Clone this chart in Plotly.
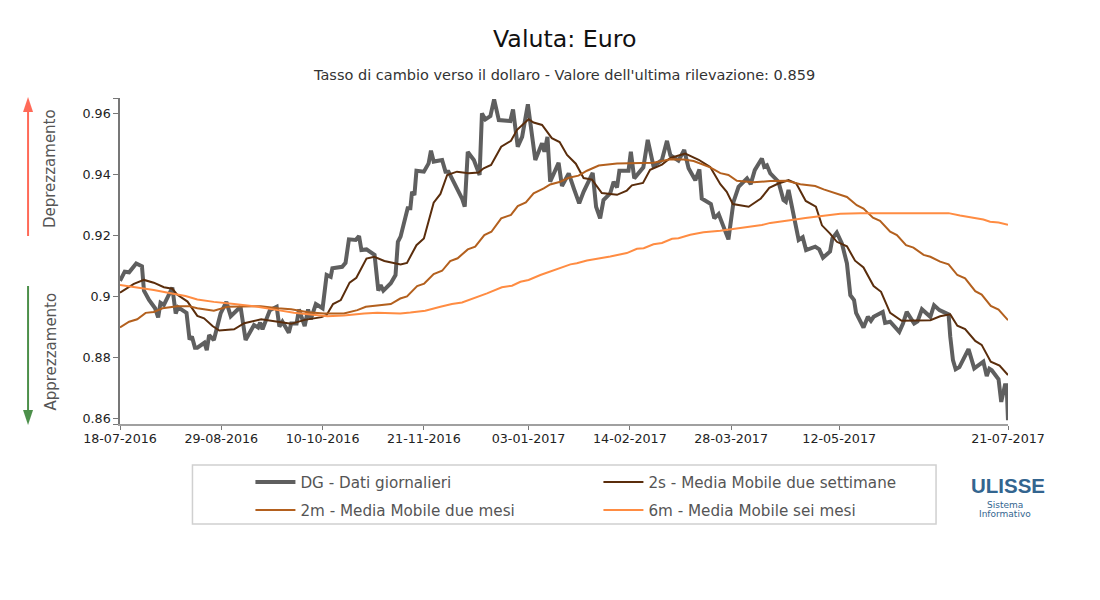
import plotly.graph_objects as go

# x values are trading-day positions counted from 18-07-2016
tick_days = [0, 30, 60, 90, 121, 151, 181, 213, 263]
tick_dates = ["18-07-2016", "29-08-2016", "10-10-2016", "21-11-2016", "03-01-2017",
              "14-02-2017", "28-03-2017", "12-05-2017", "21-07-2017"]
y_min, y_max = 0.85816, 0.96505
y_ticks = [y_min, 0.86, 0.88, 0.90, 0.92, 0.94, 0.96, y_max]
y_labels = ["", "0.86", "0.88", "0.9", "0.92", "0.94", "0.96", ""]

dg_x = [0,1.4,2.7,4.8,6.5,7.1,8.6,10.4,11.3,12,13,15.5,16.5,17.2,19.7,20.6,21.3,22.2,22.9,25,25.7,26.4,27.8,29.8,31.5,32.8,35.7,37.2,39.7,40.9,41.5,42.2,44.4,46.4,47.2,48.1,50,50.7,52.3,53,54.7,55.7,56.5,58,60,61.2,62.4,62.9,65.8,66.8,67.8,69.8,70.8,71.5,73,75.4,76.5,77.2,78,80.2,81.6,82.3,83.1,
        85.2,86,86.5,87.2,87.8,90,91.4,92.1,92.9,95.4,96.4,97.3,99.3,101.3,102.1,103,104.8,106.5,107.2,108.2,109.7,110.8,112.2,115.6,116.4,117.8,119.1,120.8,123,125,125.7,126.6,127.4,129.9,130.9,132.9,134.4,136,137.3,140,141,142.2,143.2,145.2,146.2,147.2,147.9,150.6,151.3,152.3,155,156.3,158,160.5,162,163,165.4,167.1,168.4,170.4,171.6,172.3,175,176,177.3,
        180.2,181.7,183.2,185.7,186.8,188,190.1,190.8,191.6,192.6,195,196.5,197.2,198,201,202.2,203.2,205.9,207.1,208.2,210.3,211,212.3,213.8,215.3,216.3,217.4,218,220.2,221.5,222.4,223.2,225.9,226.6,228.1,230.8,231.9,233,235.2,236.2,237.5,240,241.1,242.7,245.4,245.9,246.7,247.5,248.6,251.3,253,255.7,256.7,257.5,258.2,260.2,261,262.1,262.6,263]
dg_y = [.9051,.9081,.9079,.9108,.9099,.9019,.8988,.8961,.8931,.8979,.8972,.9029,.8944,.8964,.8946,.8859,.8868,.8832,.8832,.8848,.8824,.8873,.8857,.8944,.8982,.8935,.8966,.8857,.8906,.8898,.8914,.8892,.8955,.8966,.8901,.8917,.8881,.8911,.8911,.8957,.8903,.8957,.8925,.8975,.8961,.907,.9064,.9092,.9097,.911,.9187,.9185,.9198,.9152,.9154,.9136,.9019,.9037,.9019,.9043,.907,.9179,.9196,
        .9289,.9289,.9343,.9332,.9412,.9409,.9436,.9478,.9442,.9447,.9409,.9409,.9366,.9321,.9294,.9474,.9447,.9398,.96,.958,.9591,.9646,.9578,.9575,.9613,.9491,.9523,.963,.9447,.9502,.9474,.9523,.9376,.9438,.9362,.9403,.9354,.9305,.9343,.9405,.9294,.9256,.9316,.9338,.9376,.9357,.9412,.9412,.9474,.9387,.9423,.9513,.9427,.9447,.951,.9463,.9445,.948,.942,.9381,.9416,.9321,.9303,.9256,.927,
        .9187,.931,.9359,.9387,.9368,.9414,.9452,.9425,.943,.9403,.9376,.9316,.931,.9349,.9185,.9194,.9152,.9163,.9154,.9127,.9147,.919,.9209,.9174,.9108,.9004,.8988,.8946,.8898,.8933,.892,.8933,.8949,.8913,.8917,.8884,.8911,.8949,.8911,.8918,.8958,.8933,.8971,.8955,.8941,.8868,.8791,.8761,.8768,.8827,.8764,.8786,.8739,.8763,.8758,.8728,.8654,.8709,.8709,.8594]

s2_x = [0,1.4,4.1,7.1,10,13,15.5,17,20,22.9,24.9,27.4,29.4,33.8,36.8,41.8,46.7,50.7,54.7,59.7,61.2,63.1,65.4,68,70,73,75.3,78.3,83.1,
        85,87.8,90,92.9,94.9,96.9,99.8,103.3,106.2,107.7,109.9,112.9,115.8,117.6,121,122.5,125,127.9,130.2,132.4,135,137.3,139.8,142.7,147.2,150.1,151.6,154.9,157,160.5,163,167.4,171.4,174.8,177.8,
        179.7,181.5,186.2,189.8,192.3,195,198,200.3,203.1,206.1,207.9,210.3,212.3,215.3,217.7,220.2,223.2,225.4,228.1,231.5,240,242.9,245.9,248,250.3,253.3,255.2,257.9,260.5,263]
s2_y = [.9012,.9021,.9041,.9054,.9045,.903,.9025,.9005,.8983,.8936,.8928,.8903,.8888,.8892,.8912,.8925,.8917,.891,.8923,.8932,.8939,.8975,.8988,.9045,.9061,.9124,.913,.9116,.9105,
        .911,.9168,.919,.9307,.9336,.9398,.9409,.9404,.9406,.942,.9431,.9491,.951,.9546,.9581,.957,.9562,.9519,.9506,.9464,.9435,.9388,.9383,.9339,.9333,.9347,.9364,.9372,.9415,.9432,.9454,.9468,.9448,.9424,.9368,
        .9343,.9303,.9294,.9321,.9356,.937,.9381,.937,.9313,.9294,.9233,.9206,.9179,.9164,.9117,.9095,.9034,.9015,.8946,.892,.8922,.8935,.8941,.8904,.8893,.8854,.8841,.8786,.8773,.8742]

m2_x = [0,2.7,5.1,7.6,10,12.6,17,20.4,22.9,27.8,31.8,35.7,41.7,46.7,50.7,55.7,60.4,66.3,70.3,72.8,80.2,83,
        85,88,90.1,92.9,95.4,97.8,100,103,105.2,107.9,110,112.9,115.8,117.8,120.2,122.5,125.5,127.4,130.4,132.9,135.8,138.3,141.8,147.2,152.1,158,163,166.9,169.9,174.8,177.8,
        180.2,182.7,187.6,192.6,197.5,201.5,205.9,208.4,210.8,215.3,218.2,220.2,223,225.1,228.1,230.1,232.8,235,238,240,242.9,245.4,248,250.3,253.3,255.2,257.9,260.2,263]
m2_y = [.8898,.8917,.8925,.8946,.8949,.8961,.8968,.8968,.8961,.8953,.8966,.8966,.8968,.8961,.8958,.8948,.8944,.8944,.8955,.8966,.8975,.8993,
        .9,.9034,.9042,.9073,.9084,.9116,.9125,.9154,.9163,.9201,.9212,.9256,.9267,.9296,.9308,.9338,.9354,.9367,.9376,.9389,.9396,.9412,.9429,.9436,.9436,.9438,.945,.9449,.9444,.9423,.9404,
        .9398,.9379,.9374,.9378,.9379,.9368,.9362,.9351,.9343,.9326,.9299,.9288,.9258,.9248,.9212,.9201,.9168,.916,.9136,.913,.9114,.9105,.907,.9059,.9017,.9006,.8969,.8957,.8922]

m6_x = [0,5.1,10,15,19.4,22.9,27.8,33.8,40.7,46.7,51.5,56.5,61.4,66.3,72.3,76.2,83,
        86,90.4,94.9,98.3,101.3,105.7,108.7,113.1,116.1,118.6,121,124.5,127.9,130.4,133.4,135.3,138.3,145.2,150.1,153.1,155.1,158,160.5,163.5,165.4,168.9,172.8,177.8,
        185.2,190.1,192.6,196,200,203,207.4,210.3,213.3,219.2,232,245.4,248.8,253.3,255.7,257.7,260.2,263]
m6_y = [.9037,.903,.9021,.901,.9001,.899,.8982,.8975,.8966,.8955,.8946,.8941,.8935,.8937,.8944,.8946,.8944,
        .8947,.8953,.8966,.8975,.898,.8997,.901,.903,.9035,.9048,.9054,.907,.9084,.9092,.9105,.9109,.9118,.9131,.9142,.9156,.9158,.9171,.9175,.9189,.9191,.9202,.921,.9215,
        .9225,.9234,.9241,.9245,.9252,.9257,.9262,.9266,.9271,.9273,.9273,.9273,.9265,.9255,.9252,.9245,.9242,.9235]

W, H = 1100, 600
L, R, T, B = 119.5, 1008, 98, 424
FONT = "DejaVu Sans"


def fx(p):
    return (p - L) / (R - L)


def fy(p):
    return (B - p) / (B - T)


fig = go.Figure()
fig.add_trace(go.Scatter(x=dg_x, y=dg_y, mode="lines", name="DG - Dati giornalieri",
                         line=dict(color="#5f5f5f", width=4), legend="legend"))
fig.add_trace(go.Scatter(x=s2_x, y=s2_y, mode="lines", name="2s - Media Mobile due settimane",
                         line=dict(color="#5a2d0c", width=2), legend="legend"))
fig.add_trace(go.Scatter(x=m2_x, y=m2_y, mode="lines", name="2m - Media Mobile due mesi",
                         line=dict(color="#b3601e", width=2), legend="legend2"))
fig.add_trace(go.Scatter(x=m6_x, y=m6_y, mode="lines", name="6m - Media Mobile sei mesi",
                         line=dict(color="#ff8c42", width=2), legend="legend2"))

legend_style = dict(orientation="h", xanchor="left", yanchor="middle", entrywidth=293,
                    entrywidthmode="pixels", itemwidth=40, bgcolor="rgba(0,0,0,0)",
                    font=dict(family=FONT, size=15.2, color="#555555"), itemclick=False)

red, green = "#ff6a58", "#4c8f4a"
shapes = [
    dict(type="rect", xref="paper", yref="paper", x0=fx(192), x1=fx(936), y0=fy(465), y1=fy(524),
         line=dict(color="#d0d0d0", width=1.5), fillcolor="rgba(0,0,0,0)"),
    dict(type="line", xref="paper", yref="paper", x0=fx(27.5), x1=fx(27.5), y0=fy(236), y1=fy(110),
         line=dict(color=red, width=2)),
    dict(type="path", xref="paper", yref="paper", fillcolor=red, line=dict(width=0),
         path=f"M {fx(22.5)} {fy(112)} L {fx(27.5)} {fy(97)} L {fx(32.5)} {fy(112)} Z"),
    dict(type="line", xref="paper", yref="paper", x0=fx(27.5), x1=fx(27.5), y0=fy(286), y1=fy(412),
         line=dict(color=green, width=2)),
    dict(type="path", xref="paper", yref="paper", fillcolor=green, line=dict(width=0),
         path=f"M {fx(22.5)} {fy(410)} L {fx(27.5)} {fy(425)} L {fx(32.5)} {fy(410)} Z"),
]


def note(text, px, py, size, color, angle=0, family=FONT):
    return dict(text=text, x=fx(px), y=fy(py), xref="paper", yref="paper", showarrow=False,
                xanchor="center", yanchor="middle", textangle=angle,
                font=dict(family=family, size=size, color=color))


annotations = [
    note("Valuta: Euro", 564.5, 39, 23.7, "#111111"),
    note("Tasso di cambio verso il dollaro - Valore dell'ultima rilevazione: 0.859", 564, 75, 14.5, "#333333"),
    note("Deprezzamento", 49.5, 169, 15, "#555555", -90),
    note("Apprezzamento", 49.5, 351.5, 15, "#555555", -90),
    note("<b>ULISSE</b>", 1008, 485, 20.5, "#33658f", 0, "Liberation Sans"),
    note("Sistema", 1005, 505, 9, "#33658f"),
    note("Informativo", 1005, 514, 9, "#33658f"),
]

fig.update_layout(
    width=W, height=H, autosize=False, showlegend=True,
    paper_bgcolor="white", plot_bgcolor="white",
    margin=dict(l=L, r=W - R, t=T, b=H - B, pad=0),
    font=dict(family=FONT, size=12.7, color="#222222"),
    legend=dict(x=fx(250), y=fy(482), **legend_style),
    legend2=dict(x=fx(250), y=fy(510), **legend_style),
    shapes=shapes, annotations=annotations,
    xaxis=dict(range=[0, 263], tickmode="array", tickvals=tick_days, ticktext=tick_dates,
               showgrid=False, zeroline=False, showline=True, linecolor="#a0a0a0", linewidth=1.5,
               ticks="outside", ticklen=4, tickcolor="#777777", ticklabelstandoff=-2,
               tickfont=dict(size=12.7, color="#222222")),
    yaxis=dict(range=[y_min, y_max], tickmode="array", tickvals=y_ticks, ticktext=y_labels,
               showgrid=False, zeroline=False, showline=True, linecolor="#777777", linewidth=1.5,
               ticks="outside", ticklen=5, tickcolor="#777777",
               tickfont=dict(size=12.7, color="#222222")),
)

fig.write_html("out.html", config={"displayModeBar": False},
               post_script="document.body.style.margin='0';")
